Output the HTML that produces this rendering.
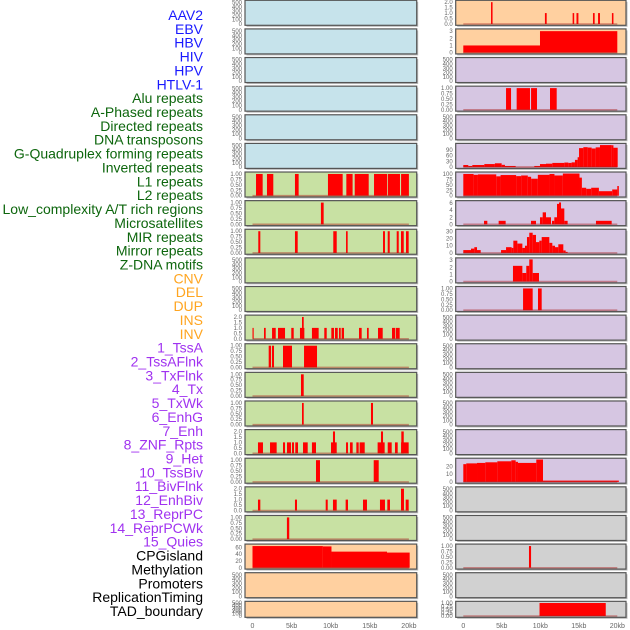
<!DOCTYPE html>
<html><head><meta charset="utf-8"><style>
html,body{margin:0;padding:0;background:#fff;}
svg{display:block;font-family:"Liberation Sans",sans-serif;}
</style></head><body>
<svg id="chart" width="630" height="630" viewBox="0 0 630 630" xmlns="http://www.w3.org/2000/svg">
<g id="labels"></g>
<g id="panels"></g>
<g id="xaxes"></g>
</svg>
<script>
const trackLabels = ["AAV2","EBV","HBV","HIV","HPV","HTLV-1","Alu repeats","A-Phased repeats","Directed repeats","DNA transposons","G-Quadruplex forming repeats","Inverted repeats","L1 repeats","L2 repeats","Low_complexity A/T rich regions","Microsatellites","MIR repeats","Mirror repeats","Z-DNA motifs","CNV","DEL","DUP","INS","INV","1_TssA","2_TssAFlnk","3_TxFlnk","4_Tx","5_TxWk","6_EnhG","7_Enh","8_ZNF_Rpts","9_Het","10_TssBiv","11_BivFlnk","12_EnhBiv","13_ReprPC","14_ReprPCWk","15_Quies","CPGisland","Methylation","Promoters","ReplicationTiming","TAD_boundary"];
const labelGroups = [6,13,5,15,5];
const xTickValues = [0,5,10,15,20];
const xTickLabels = ["0","5kb","10kb","15kb","20kb"];
const ticksEmpty = [0,100,200,300,400,500];
const ticksUnit = [0,0.25,0.5,0.75,1];
const ticksTwo = [0,0.5,1,1.5,2];

// segments: [startKb, endKb, value]
const L6 = [[0.45,1.3,1],[1.85,2.66,1],[5.43,5.9,1],[9.65,11.53,1],[12.0,12.8,1],[13.07,14.86,1],[15.54,17.2,1],[17.3,18.86,1],[19.0,20,1]];
const L7 = [[8.75,9.1,1]];
const L8 = [[0.74,1.0,1],[5.43,5.78,1],[10.33,10.77,1],[11.96,12.17,1],[16.69,16.94,1],[17.29,17.55,1],[18.44,18.7,1],[18.99,19.34,1],[19.63,19.97,1]];
const L11 = [[0,0.15,1],[1.47,1.69,1],[2.5,2.97,1],[3.26,4.16,1],[4.96,5.27,1],[6.07,6.63,1],[6.33,6.55,2],[7.6,8.46,1],[9.18,9.49,1],[10.08,10.42,1],[10.55,10.9,1],[11.06,11.28,1],[11.4,11.7,1],[13.62,13.96,1],[14.64,14.86,1],[16.05,16.65,1],[17.84,18.26,1],[18.35,18.82,1]];
const L12 = [[2.07,2.37,1],[2.49,2.75,1],[3.9,5.05,1],[6.59,8.25,1]];
const L13 = [[6.2,6.55,1]];
const L14 = [[6.33,6.55,1],[15.15,15.41,1]];
const L15 = [[0.7,1.34,1],[2.24,3.09,1],[3.9,4.16,1],[4.41,4.92,1],[5.05,5.31,1],[5.47,5.82,1],[6.46,7.06,1],[7.6,8.12,1],[10.04,10.77,1],[10.29,10.55,2],[11.96,12.21,1],[12.47,12.81,1],[13.28,13.58,1],[13.7,14.35,1],[16.0,16.9,1],[16.43,16.69,2],[17.29,17.8,1],[18.22,18.57,1],[19.0,19.97,1],[19.03,19.34,2]];
const L16 = [[8.12,8.63,1],[15.5,16.14,1]];
const L17 = [[0.7,1.0,1],[5.43,5.69,1],[9.36,9.62,1],[10.29,10.77,1],[11.91,12.21,1],[14.13,14.64,1],[16.3,16.94,1],[17.24,17.58,1],[18.99,19.37,2],[19.59,19.97,1]];
const L18 = [[4.4,4.7,1]];
const L19 = [[0,9.0,64],[9.0,10.1,63],[10.1,17.2,47.6],[17.2,20.1,44.8]];
const R0 = [[3.6,3.8,2],[10.6,10.83,1],[14.2,14.4,1],[14.7,14.95,1],[16.84,17.06,1],[17.5,17.75,1],[19.3,19.5,1]];
const R1 = [[0,9.96,1],[9.96,20,3]];
const R3 = [[5.55,6.2,1],[6.93,8.66,1],[8.8,9.57,1],[11.26,12.13,1]];
const R5 = [[0,0.65,11],[0.65,1.17,6],[1.17,2.73,11],[2.73,4.1,16],[4.1,4.98,20],[4.98,5.41,12],[5.41,6.8,6],[6.8,9.22,1],[9.22,9.96,6],[9.96,10.74,16],[10.74,11.56,18],[11.56,13.12,22],[13.12,13.64,24],[13.64,14.07,22],[14.07,14.5,25],[14.5,14.85,38],[14.85,15.03,52],[15.03,15.59,100],[15.59,16.15,105],[16.15,16.67,103],[16.67,17.19,98],[17.19,17.75,104],[17.75,19.27,116],[19.27,19.5,115],[19.5,20.05,102]];
const R6 = [[0,1.34,101],[1.34,1.9,97],[1.9,4.28,99],[4.28,4.84,90],[4.84,6.86,96],[6.86,7.51,91],[7.51,8.38,94],[8.38,8.81,88],[8.81,9.68,79],[9.68,11.2,97],[11.2,11.84,101],[11.84,12.93,94],[12.93,15.09,103],[15.09,15.4,84],[15.4,15.96,37],[15.96,16.61,32],[16.61,17.61,37],[17.61,19.34,21],[19.34,20.0,29],[20.0,20.4,45]];
const R7 = [[2.69,3.12,1],[4.59,5.5,1],[8.79,9.44,1],[9.96,10.31,2],[10.31,10.74,3.4],[10.74,11.39,2],[11.52,11.82,1],[11.82,12.17,2],[12.17,12.43,5.8],[12.43,12.69,6.2],[12.69,13.12,4.5],[13.12,13.55,1],[17.23,19.27,1]];
const R8 = [[0,1.0,4],[1.0,1.43,6],[1.43,1.78,8],[1.78,2.26,4],[4.9,5.55,4],[5.55,6.28,8],[6.28,6.5,7],[6.5,7.02,17],[7.02,7.67,13],[7.67,8.01,7],[8.01,8.27,10],[8.27,8.57,22],[8.57,9.01,28],[9.01,9.44,25],[9.44,9.87,15],[9.87,10.18,17],[10.18,11.17,22],[11.17,11.56,14],[11.56,11.91,10],[11.91,12.34,8],[12.34,12.99,12],[12.99,13.29,3.5],[13.29,13.55,1.5]];
const R9 = [[6.45,7.67,2.2],[7.67,8.18,1.2],[8.18,8.57,2.2],[8.57,9.01,3.1],[9.01,9.83,1.2]];
const R10 = [[7.76,9.01,1],[9.7,10.18,1]];
const R16 = [[0,0.39,23],[0.39,1.78,24],[1.78,2.86,24.6],[2.86,4.42,25.4],[4.42,6.24,26.7],[6.24,6.8,28],[6.8,7.1,26],[7.1,9.48,24.6],[9.48,10.35,29],[10.35,20.35,1.7]];
const R19 = [[8.53,8.8,1]];
const R21 = [[9.9,18.5,1]];

const BLUE="#c6e3eb", PEACH="#ffd0a0", PURP="#d6c6e2", GREEN="#c8e1a3", GRAY="#d1d1d1";
function P(col,row,bg,ymax,ticks,fmt,segs,name){return {col,row,bg,ymax,ticks,fmt,segs,name};}
const panels=[];
for(let r=0;r<6;r++) panels.push(P(0,r,BLUE,520,ticksEmpty,0,[], 'left-empty-'+r));
panels.push(P(0,6,GREEN,1.03,ticksUnit,2,L6,'left-row-6'));
panels.push(P(0,7,GREEN,1.03,ticksUnit,2,L7,'left-row-7'));
panels.push(P(0,8,GREEN,1.03,ticksUnit,2,L8,'left-row-8'));
panels.push(P(0,9,GREEN,520,ticksEmpty,0,[],'left-row-9'));
panels.push(P(0,10,GREEN,520,ticksEmpty,0,[],'left-row-10'));
panels.push(P(0,11,GREEN,2.05,ticksTwo,1,L11,'left-row-11'));
panels.push(P(0,12,GREEN,1.03,ticksUnit,2,L12,'left-row-12'));
panels.push(P(0,13,GREEN,1.03,ticksUnit,2,L13,'left-row-13'));
panels.push(P(0,14,GREEN,1.03,ticksUnit,2,L14,'left-row-14'));
panels.push(P(0,15,GREEN,2.05,ticksTwo,1,L15,'left-row-15'));
panels.push(P(0,16,GREEN,1.03,ticksUnit,2,L16,'left-row-16'));
panels.push(P(0,17,GREEN,2.05,ticksTwo,1,L17,'left-row-17'));
panels.push(P(0,18,GREEN,1.03,ticksUnit,2,L18,'left-row-18'));
panels.push(P(0,19,PEACH,66,[0,20,40,60],0,L19,'left-cpg-row'));
panels.push(P(0,20,PEACH,520,ticksEmpty,0,[],'left-row-20'));
panels.push(P(0,21,PEACH,520,ticksEmpty,0,[],'left-row-21'));
panels.push(P(1,0,PEACH,2.05,ticksTwo,1,R0,'right-row-0'));
panels.push(P(1,1,PEACH,3.13,[0,1,2,3],0,R1,'right-row-1'));
panels.push(P(1,2,PURP,520,ticksEmpty,0,[],'right-row-2'));
panels.push(P(1,3,PURP,1.03,ticksUnit,2,R3,'right-row-3'));
panels.push(P(1,4,PURP,520,ticksEmpty,0,[],'right-row-4'));
panels.push(P(1,5,PURP,118,[0,30,60,90],0,R5,'right-row-5'));
panels.push(P(1,6,PURP,104,[0,25,50,75,100],0,R6,'right-row-6'));
panels.push(P(1,7,PURP,6.35,[0,2,4,6],0,R7,'right-row-7'));
panels.push(P(1,8,PURP,31,[0,10,20,30],0,R8,'right-row-8'));
panels.push(P(1,9,PURP,3.13,[0,1,2,3],0,R9,'right-row-9'));
panels.push(P(1,10,PURP,1.03,ticksUnit,2,R10,'right-row-10'));
for(let r=11;r<16;r++) panels.push(P(1,r,PURP,520,ticksEmpty,0,[],'right-row-'+r));
panels.push(P(1,16,PURP,29,[0,10,20],0,R16,'right-row-16'));
panels.push(P(1,17,GRAY,520,ticksEmpty,0,[],'right-row-17'));
panels.push(P(1,18,GRAY,520,ticksEmpty,0,[],'right-row-18'));
panels.push(P(1,19,GRAY,1.03,ticksUnit,2,R19,'right-row-19'));
panels.push(P(1,20,GRAY,520,ticksEmpty,0,[],'right-row-20'));
panels.push(P(1,21,GRAY,1.03,ticksUnit,2,R21,'right-row-21'));

const NS="http://www.w3.org/2000/svg";
function mk(tag,attrs,parent){const e=document.createElementNS(NS,tag);for(const k in attrs)e.setAttribute(k,attrs[k]);parent.appendChild(e);return e;}
const colX=[{x0:245,x1:416.7,k0:252.5,s:7.82},{x0:455.7,x1:626,k0:463.3,s:7.7}];
function xs(col,kb){return colX[col].k0+kb*colX[col].s;}
function rowTop(r){return 0.3+r*28.62;}
function rowH(r){return r===21?16:25;}

// labels
const labelColors=["#1919ff","#0d660d","#ffa520","#a032f0","#000000"];
const lg=document.getElementById('labels');
let gi=0,cnt=0;
trackLabels.forEach((t,i)=>{
  if(cnt>=labelGroups[gi]){gi++;cnt=0;} cnt++;
  const e=mk('text',{x:203,y:15+i*13.86+5,'text-anchor':'end','font-size':14,fill:labelColors[gi]},lg);
  e.textContent=t;
  
  
});

const pg=document.getElementById('panels');
panels.forEach(p=>{
  const c=colX[p.col], top=rowTop(p.row), h=rowH(p.row), bot=top+h;
  const g=mk('g',{},pg);
  
  
  mk('rect',{x:c.x0+1.5,y:top+1.5,width:c.x1-c.x0,height:h,fill:'#bbbbbb'},g);
  const bg=mk('rect',{x:c.x0,y:top,width:c.x1-c.x0,height:h,fill:p.bg},g);
  
  
  const ys=v=>bot-1.3-v/p.ymax*(h-2.6);
  p.segs.forEach(s=>{
    const x1=xs(p.col,s[0]), x2=xs(p.col,Math.min(s[1],20.2));
    const r=mk('rect',{x:x1,y:ys(s[2]),width:Math.max(x2-x1,1),height:ys(0)-ys(s[2]),fill:'#ff0000'},g);
    
    
  });
  if(p.segs.length){
    const bl=mk('line',{x1:xs(p.col,0),x2:xs(p.col,20),y1:ys(0),y2:ys(0),stroke:'rgba(170,30,30,0.45)','stroke-width':1.6},g);
    
    
  }
  mk('rect',{x:c.x0,y:top,width:c.x1-c.x0,height:h,fill:'none',stroke:'#555','stroke-width':1.2},g);
  p.ticks.forEach(v=>{
    const t=mk('text',{x:c.x0-3,y:ys(v)+2,'text-anchor':'end','font-size':6,fill:'#666'},g);
    t.textContent=p.fmt?v.toFixed(p.fmt):String(v);
    
    
  });
});

const xg=document.getElementById('xaxes');
[0,1].forEach(col=>{
  xTickValues.forEach((v,i)=>{
    const t=mk('text',{x:xs(col,v),y:628,'text-anchor':'middle','font-size':7,fill:'#666'},xg);
    t.textContent=xTickLabels[i];
    
    
  });
});
</script>
</body></html>
